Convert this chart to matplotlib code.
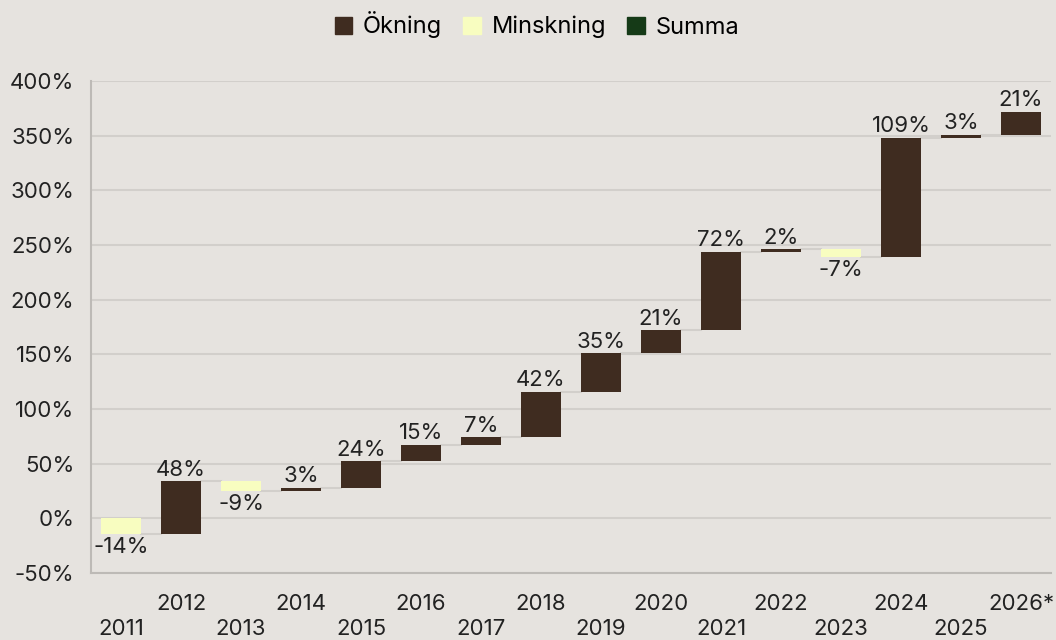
import numpy as np
import matplotlib.pyplot as plt
from matplotlib.patches import Patch

plt.rcParams['font.family'] = ['Inter', 'DejaVu Sans']

# data
years = ['2011', '2012', '2013', '2014', '2015', '2016', '2017', '2018',
         '2019', '2020', '2021', '2022', '2023', '2024', '2025', '2026*']
changes = [-14, 48, -9, 3, 24, 15, 7, 42, 35, 21, 72, 2, -7, 109, 3, 21]

bg = '#e6e3df'
up_col = '#3f2c20'
down_col = '#f8fdc0'
sum_col = '#153a17'
grid_col = '#d2cfcb'
txt_col = '#222222'

changes = np.array(changes)
ends = np.cumsum(changes)
starts = ends - changes
x = np.arange(len(years))

fig = plt.figure(figsize=(10.56, 6.4), dpi=100, facecolor=bg)
ax = fig.add_axes([91 / 1056, 1 - 573 / 640, 960 / 1056, 492 / 640])
ax.set_facecolor(bg)

w = 0.667
colors = [up_col if c >= 0 else down_col for c in changes]
ax.bar(x, changes, bottom=starts, width=w, color=colors, zorder=3)

# connectors between bars
for i in range(len(x) - 1):
    ax.plot([x[i] + w / 2, x[i + 1] - w / 2], [ends[i], ends[i]],
            color=grid_col, lw=1.5, zorder=2)

# value labels
for i, c in enumerate(changes):
    if c >= 0:
        ax.text(x[i], ends[i] + 1.5, f'{c}%', ha='center', va='bottom',
                fontsize=16, color=txt_col, zorder=4)
    else:
        ax.text(x[i], ends[i] - 3, f'{c}%', ha='center', va='top',
                fontsize=16, color=txt_col, zorder=4)

ax.set_xlim(-0.5, len(x) - 0.5)
ax.set_ylim(-50, 400)
yt = np.arange(-50, 401, 50)
ax.set_yticks(yt)
ax.set_yticklabels([f'{v}%' for v in yt], fontsize=16, color=txt_col)
ax.grid(axis='y', color=grid_col, lw=1.5, zorder=0)
ax.set_xticks(x)
ax.set_xticklabels(years, fontsize=16, color=txt_col)
ax.tick_params(axis='y', length=0, pad=12)
ax.tick_params(axis='x', length=0, pad=15)
# staggered year labels
for i, lab in enumerate(ax.get_xticklabels()):
    lab.set_y(-0.051 if i % 2 == 0 else 0)

for s in ['top', 'right']:
    ax.spines[s].set_visible(False)
for s in ['left', 'bottom']:
    ax.spines[s].set_color('#bdbab6')
    ax.spines[s].set_linewidth(1.5)

handles = [Patch(color=up_col, label='Ökning'),
           Patch(color=down_col, label='Minskning'),
           Patch(color=sum_col, label='Summa')]
fig.legend(handles=handles, loc='center', bbox_to_anchor=(537 / 1056, 1 - 25 / 640),
           ncol=3, frameon=False, fontsize=17, handlelength=0.75,
           handleheight=0.75, handletextpad=0.45, columnspacing=0.9)

fig.savefig('out.png', dpi=100, facecolor=bg)
